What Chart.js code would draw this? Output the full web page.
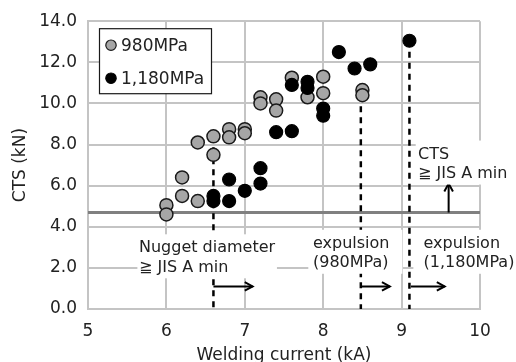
<!DOCTYPE html>
<html>
<head>
<meta charset="utf-8">
<script src="https://cdn.jsdelivr.net/npm/chart.js@4"></script>
<style>
  html, body { margin: 0; padding: 0; background: #fff; }
  #wrap { width: 516px; height: 362px; }
</style>
</head>
<body>
<div id="wrap"><canvas id="chart"></canvas></div>
<script>
const FONT = "'DejaVu Sans', 'Noto Sans CJK JP', sans-serif"

// welding current (kA) / CTS (kN) per steel grade
const current980 = [6.0, 6.0, 6.2, 6.2, 6.4, 6.4, 6.6, 6.6, 6.8, 6.8, 7.0, 7.0, 7.2, 7.2, 7.4, 7.4, 7.6, 7.8, 8.0, 8.0, 8.5, 8.5]
const cts980 = [5.05, 4.6, 6.4, 5.5, 8.1, 5.25, 8.4, 7.5, 8.75, 8.35, 8.75, 8.55, 10.3, 10.0, 10.2, 9.65, 11.25, 10.3, 11.3, 10.5, 10.65, 10.4]
const current1180 = [6.6, 6.6, 6.8, 6.8, 7.0, 7.2, 7.2, 7.4, 7.6, 7.6, 7.8, 7.8, 8.0, 8.0, 8.2, 8.4, 8.6, 9.1]
const cts1180 = [5.5, 5.25, 6.3, 5.25, 5.75, 6.85, 6.1, 8.6, 8.65, 10.9, 11.05, 10.75, 9.75, 9.4, 12.5, 11.7, 11.9, 13.05]

// JIS A min CTS level
const jisMinCts = 4.7

// dashed limits: current, top of line
const limitCurrents = [6.6, 8.48, 9.1]
const limitTops = [8.4, 10.4, 13.05]

// arrows [x, y] from -> to
const arrowFrom = [[6.6, 1.1], [8.48, 1.1], [9.12, 1.1], [9.6, 4.7]]
const arrowTo = [[7.1, 1.1], [8.85, 1.1], [9.55, 1.1], [9.6, 6.1]]

// notes: text lines, [left current, first line CTS], white box [x1, x2]
const noteLines = [['Nugget diameter', '≧ JIS A min'], ['expulsion', '(980MPa)'], ['expulsion', '(1,180MPa)'], ['CTS', '≧ JIS A min']]
const noteAt = [[5.65, 3.05], [7.87, 3.27], [9.28, 3.27], [9.21, 7.61]]
const noteBox = [[5.63, 7.41], [7.81, 9.01], [9.15, 10.6], [9.18, 10.6]]

const xy = (xs, ys) => xs.map((x, i) => ({ x: x, y: ys[i] }))

const datasets = [
  {
    label: '1,180MPa',
    data: xy(current1180, cts1180),
    backgroundColor: '#000',
    borderColor: '#000',
    pointRadius: 6.5,
    pointBorderWidth: 1.2,
    legendRow: 1,
    order: 0
  },
  {
    label: '980MPa',
    data: xy(current980, cts980),
    backgroundColor: '#a6a6a6',
    borderColor: '#1a1a1a',
    pointRadius: 6.5,
    pointBorderWidth: 1.5,
    legendRow: 0,
    order: 1
  },
  {
    data: [{ x: 5, y: jisMinCts }, { x: 10, y: jisMinCts }],
    showLine: true,
    borderColor: '#808080',
    borderWidth: 3,
    pointRadius: 0,
    order: 5
  }
]

limitCurrents.forEach((c, i) => {
  datasets.push({
    data: [{ x: c, y: limitTops[i] }, { x: c, y: 0 }],
    showLine: true,
    borderColor: '#000',
    borderWidth: 2.5,
    borderDash: [6, 5],
    pointRadius: 0,
    order: 3
  })
})

arrowFrom.forEach((p, i) => {
  datasets.push({
    data: [{ x: p[0], y: p[1] }, { x: arrowTo[i][0], y: arrowTo[i][1] }],
    showLine: true,
    borderColor: '#000',
    borderWidth: 2,
    pointRadius: 0,
    isArrow: true,
    order: 2
  })
})

const notesPlugin = {
  id: 'notes',
  afterDatasetsDraw (chart) {
    const ctx = chart.ctx
    const xs = chart.scales.x
    const ys = chart.scales.y
    ctx.save()
    // arrow heads
    chart.data.datasets.forEach((ds, i) => {
      if (!ds.isArrow) return
      const pts = chart.getDatasetMeta(i).data
      const a = pts[0]
      const b = pts[1]
      const ang = Math.atan2(b.y - a.y, b.x - a.x)
      ctx.strokeStyle = '#000'
      ctx.lineWidth = 2
      ctx.beginPath()
      ctx.moveTo(b.x - 9 * Math.cos(ang - 0.5), b.y - 9 * Math.sin(ang - 0.5))
      ctx.lineTo(b.x, b.y)
      ctx.lineTo(b.x - 9 * Math.cos(ang + 0.5), b.y - 9 * Math.sin(ang + 0.5))
      ctx.stroke()
    })
    // text notes on white boxes
    ctx.font = '16px ' + FONT
    noteLines.forEach((lines, i) => {
      const x = xs.getPixelForValue(noteAt[i][0])
      const y = ys.getPixelForValue(noteAt[i][1])
      const bx1 = xs.getPixelForValue(noteBox[i][0])
      const bx2 = xs.getPixelForValue(noteBox[i][1])
      ctx.fillStyle = '#fff'
      ctx.fillRect(bx1, y - 12, bx2 - bx1, 19.5 * lines.length + 5)
      ctx.fillStyle = '#222'
      ctx.textBaseline = 'alphabetic'
      ctx.textAlign = 'left'
      lines.forEach((t, j) => {
        ctx.fillText(t, x, y + 6 + j * 19.5)
      })
    })
    ctx.restore()
  },
  afterDraw (chart) {
    const ctx = chart.ctx
    const area = chart.chartArea
    const left = area.left + 11
    const top = area.top + 7
    ctx.save()
    ctx.fillStyle = '#fff'
    ctx.fillRect(left, top, 112, 65)
    ctx.strokeStyle = '#1a1a1a'
    ctx.lineWidth = 1.2
    ctx.strokeRect(left + 0.5, top + 0.5, 112, 65)
    ctx.font = '17px ' + FONT
    ctx.textBaseline = 'middle'
    chart.data.datasets.forEach(ds => {
      if (ds.legendRow === undefined) return
      const cy = top + 17 + ds.legendRow * 33
      ctx.beginPath()
      ctx.arc(left + 12, cy, 5.2, 0, Math.PI * 2)
      ctx.fillStyle = ds.backgroundColor
      ctx.fill()
      ctx.lineWidth = 1.2
      ctx.strokeStyle = ds.borderColor
      ctx.stroke()
      ctx.fillStyle = '#222'
      ctx.fillText(ds.label, left + 22, cy + 1)
    })
    ctx.restore()
  }
}

new Chart(document.getElementById('chart'), {
  type: 'scatter',
  data: { datasets: datasets },
  plugins: [notesPlugin],
  options: {
    responsive: true,
    maintainAspectRatio: false,
    animation: false,
    layout: { padding: { top: 21, right: 36, left: 0, bottom: 0 } },
    plugins: {
      legend: { display: false },
      tooltip: { enabled: false }
    },
    scales: {
      x: {
        min: 5,
        max: 10,
        afterFit: (scale) => { scale.height = 53 },
        ticks: {
          stepSize: 1,
          padding: 12,
          color: '#222',
          font: { family: FONT, size: 17 }
        },
        grid: { color: '#c4c4c4', lineWidth: 2, drawTicks: false },
        border: { color: '#c4c4c4', width: 2 },
        title: {
          display: true,
          text: 'Welding current (kA)',
          color: '#222',
          font: { family: FONT, size: 17, lineHeight: 1 },
          padding: { top: 0, bottom: -2 }
        }
      },
      y: {
        min: 0,
        max: 14,
        afterFit: (scale) => { scale.width = 88 },
        ticks: {
          stepSize: 2,
          padding: 11,
          color: '#222',
          font: { family: FONT, size: 17 },
          callback: (v) => v.toFixed(1)
        },
        grid: { color: '#c4c4c4', lineWidth: 2, drawTicks: false },
        border: { color: '#c4c4c4', width: 2 },
        title: {
          display: true,
          text: 'CTS (kN)',
          color: '#222',
          font: { family: FONT, size: 17 },
          padding: { top: 10, bottom: 0 }
        }
      }
    }
  }
})
</script>
</body>
</html>
